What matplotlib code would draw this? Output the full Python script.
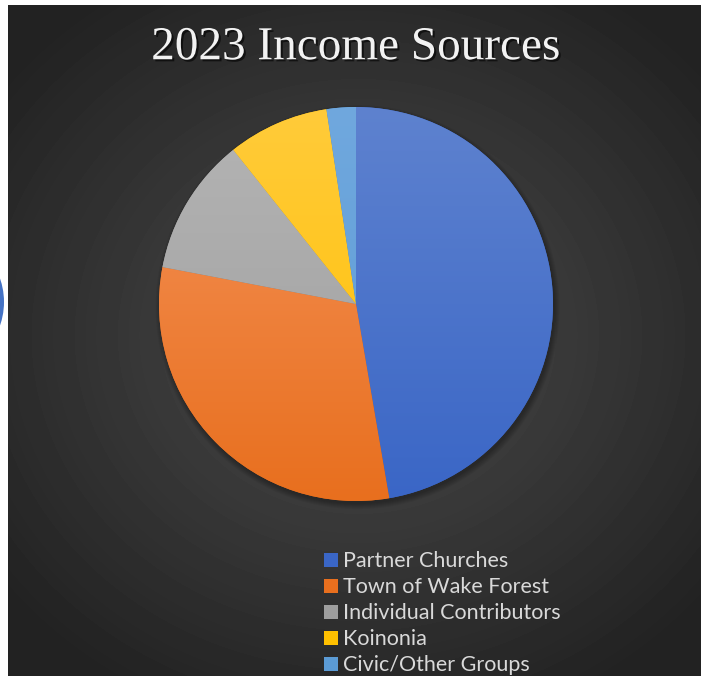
import numpy as np
import matplotlib
matplotlib.use("Agg")
import matplotlib.pyplot as plt
from matplotlib.patches import Rectangle, Circle
from matplotlib.colors import LinearSegmentedColormap
import matplotlib.patheffects as pe

# --- data (share of 2023 income, %) ---
sources = ["Partner Churches", "Town of Wake Forest", "Individual Contributors",
           "Koinonia", "Civic/Other Groups"]
shares = [47.3, 30.7, 11.3, 8.3, 2.4]

# top / bottom shade of each slice (Office-like gradient fill)
top_colors = ["#5E82CF", "#F5935A", "#B4B4B4", "#FFCB3A", "#70A8DE"]
bottom_colors = ["#3A66C6", "#E86F1E", "#9E9E9E", "#FFC000", "#5B9BD5"]

W, H = 701, 676
fig = plt.figure(figsize=(W / 100, H / 100), dpi=100)
fig.patch.set_facecolor("white")

# --- dark radial background ---
bg = fig.add_axes([8 / W, 0, 1 - 8 / W, 1 - 5 / H])
bg.set_axis_off()
yy, xx = np.mgrid[0:H - 5, 0:W - 8]
d = np.hypot((xx - 350) / 520, (yy - 330) / 470)
shade = np.clip(76 - 48 * d, 34, 80) / 255
bg.imshow(shade, cmap="gray", vmin=0, vmax=1, aspect="auto",
          extent=[0, 1, 0, 1], interpolation="bilinear")
bg.set_xlim(0, 1)
bg.set_ylim(0, 1)

# stray blue circle at the left edge of the screenshot
fig.patches.append(Circle((-73 / W, 1 - 302 / H), 77 / W, transform=fig.transFigure,
                          facecolor="#4472C4", edgecolor="none"))

# --- pie ---
cx, cy, r = 356, 304, 197
ax = fig.add_axes([(cx - r * 1.05) / W, (H - cy - r * 1.05) / H,
                   2 * r * 1.05 / W, 2 * r * 1.05 / H])
ax.set_axis_off()

# soft shadow under the pie
for k in range(6):
    ax.add_patch(Circle((0.008, -0.016), 1.0 + 0.005 * k, facecolor="black",
                        alpha=0.05, edgecolor="none"))

wedges, _ = ax.pie(shares, startangle=90, counterclock=False, radius=1.0,
                   colors=bottom_colors, wedgeprops=dict(linewidth=0))

grad = np.linspace(1, 0, 256).reshape(-1, 1)
for w, c_top, c_bot in zip(wedges, top_colors, bottom_colors):
    cmap = LinearSegmentedColormap.from_list("g", [c_bot, c_top])
    im = ax.imshow(grad, cmap=cmap, extent=[-1, 1, -1, 1], aspect="auto",
                   interpolation="bilinear", zorder=w.get_zorder() + 0.1)
    im.set_clip_path(w)

ax.set_xlim(-1.05, 1.05)
ax.set_ylim(-1.05, 1.05)

# --- title ---
fig.text(356 / W, 1 - 48 / H, "2023 Income Sources", ha="center", va="center",
         fontsize=34, color="#F2F2F2", family="Liberation Serif",
         path_effects=[pe.withSimplePatchShadow(offset=(1.5, -1.5),
                                                shadow_rgbFace="black", alpha=0.6)])

# --- legend ---
y0, dy = 560, 26
for i, (name, col) in enumerate(zip(sources, bottom_colors)):
    y = y0 + i * dy
    fig.patches.append(Rectangle((324 / W, 1 - (y + 7) / H), 14 / W, 14 / H,
                                 transform=fig.transFigure, facecolor=col,
                                 edgecolor="none"))
    fig.text(343 / W, 1 - (y + 1) / H, name, ha="left", va="center", fontsize=15.5,
             color="#D9D9D9", family="Lato")

fig.savefig("out.png", dpi=100, facecolor=fig.get_facecolor())
